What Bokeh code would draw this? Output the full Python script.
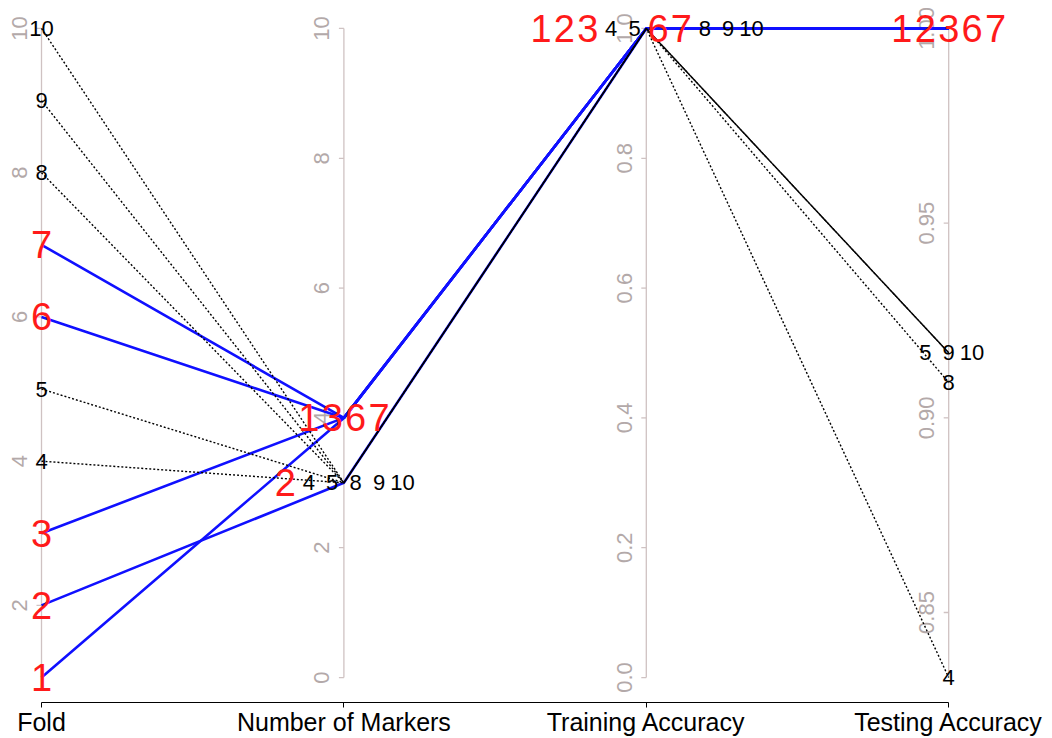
import math
from bokeh.plotting import figure
from bokeh.models import Range1d, FixedTicker, ColumnDataSource
from bokeh.core.properties import value
from bokeh.embed import file_html
from bokeh.resources import INLINE

# ---- data: one row per cross-validation fold ----
folds = [1, 2, 3, 4, 5, 6, 7, 8, 9, 10]
n_markers = [4, 3, 4, 3, 3, 4, 4, 3, 3, 3]
train_acc = [1.0, 1.0, 1.0, 1.0, 1.0, 1.0, 1.0, 1.0, 1.0, 1.0]
test_acc = [1.0, 1.0, 1.0, 0.8333, 0.9167, 1.0, 1.0, 0.9091, 0.9167, 0.9167]

axis_names = ["Fold", "Number of Markers", "Training Accuracy", "Testing Accuracy"]
axis_lo = [1, 0, 0.0, min(test_acc)]
axis_hi = [10, 10, 1.0, 1.0]

fold_ticks = [2, 4, 6, 8, 10]
marker_ticks = [0, 2, 4, 6, 8, 10]
train_ticks = [0.0, 0.2, 0.4, 0.6, 0.8, 1.0]
test_ticks = [0.85, 0.90, 0.95, 1.00]
fold_tick_labels = ["2", "4", "6", "8", "10"]
marker_tick_labels = ["0", "2", "4", "6", "8", "10"]
train_tick_labels = ["0.0", "0.2", "0.4", "0.6", "0.8", "1.0"]
test_tick_labels = ["0.85", "0.90", "0.95", "1.00"]

# ---- layout / style ----
W, H = 1052, 738
FRAME_H = 703
PX_X = 302.4          # pixels between neighbouring axes
LEFT = 41             # pixel of the first axis
PX_Y = 650            # pixels for the full normalised range
TOP = 28              # pixel of normalised value 1
SLOT = 23.4           # horizontal spacing of stacked fold labels
AXIS_COL = "#cfc2c2"
TICK_TXT = "#b3a9a9"
FONT = "Liberation Sans"

columns = [folds, n_markers, train_acc, test_acc]
good = [t == 1.0 for t in test_acc]


def norm(v, k):
    return (v - axis_lo[k]) / (axis_hi[k] - axis_lo[k])


p = figure(width=W, height=H, output_backend="svg", toolbar_location=None,
           x_range=Range1d(-LEFT / PX_X, (W - LEFT) / PX_X),
           y_range=Range1d(-(FRAME_H - TOP - PX_Y) / PX_Y, 1 + TOP / PX_Y),
           y_axis_location=None, min_border_left=0, min_border_right=0,
           min_border_top=0, min_border_bottom=H - FRAME_H)
p.outline_line_color = None
p.grid.visible = False
p.background_fill_color = "white"

# bottom axis carrying the variable names
xa = p.xaxis[0]
xa.ticker = FixedTicker(ticks=[0, 1, 2, 3])
xa.major_label_overrides = {i: n for i, n in enumerate(axis_names)}
xa.bounds = (0, 3)
xa.axis_line_color = "black"
xa.major_tick_line_color = "black"
xa.major_tick_out = 5
xa.major_tick_in = 0
xa.minor_tick_line_color = None
xa.major_label_standoff = 0
xa.major_label_text_font = FONT
xa.major_label_text_font_size = "25px"
xa.major_label_text_color = "black"

# vertical axes drawn at each variable position
tick_sets = [(fold_ticks, fold_tick_labels), (marker_ticks, marker_tick_labels),
             (train_ticks, train_tick_labels), (test_ticks, test_tick_labels)]
ax_x0, ax_x1, ax_y0, ax_y1 = [], [], [], []
tk = dict(x0=[], x1=[], y=[])
tl = dict(x=[], y=[], text=[])
for k, (ticks, labels) in enumerate(tick_sets):
    ax_x0.append(k); ax_x1.append(k)
    ax_y0.append(0.0); ax_y1.append(1.0)
    for t, lab in zip(ticks, labels):
        yv = norm(t, k)
        tk["x0"].append(k - 5 / PX_X); tk["x1"].append(k); tk["y"].append(yv)
        tl["x"].append(k); tl["y"].append(yv); tl["text"].append(lab)

p.segment(x0=ax_x0, y0=ax_y0, x1=ax_x1, y1=ax_y1, line_color=AXIS_COL, line_width=1.3)
p.segment(x0="x0", y0="y", x1="x1", y1="y", source=ColumnDataSource(tk),
          line_color=AXIS_COL, line_width=1.3)
p.text(x="x", y="y", text="text", source=ColumnDataSource(tl), angle=math.pi / 2,
       x_offset=-22, text_align="center", text_baseline="middle",
       text_font=value(FONT), text_font_size="22px", text_color=TICK_TXT)

# polylines, one per fold
xs_all = [0, 1, 2, 3]
blue = dict(xs=[], ys=[])
dots = dict(xs=[], ys=[])
for i in range(len(folds)):
    ys = [norm(columns[k][i], k) for k in range(4)]
    tgt = blue if good[i] else dots
    tgt["xs"].append(xs_all); tgt["ys"].append(ys)

p.multi_line(xs="xs", ys="ys", source=ColumnDataSource(blue), line_color="#1010ff", line_width=2.6)
p.multi_line(xs="xs", ys="ys", source=ColumnDataSource(dots), line_color="black",
             line_width=1.4, line_dash="2 2")

# fold numbers written at every axis, stacked sideways when values coincide
red = dict(x=[], y=[], text=[], off=[])
blk = dict(x=[], y=[], text=[], off=[])
for k in range(4):
    groups = {}
    for i in range(len(folds)):
        groups.setdefault(columns[k][i], []).append(i)
    for val, members in groups.items():
        n = len(members)
        for j, i in enumerate(members):
            d = red if good[i] else blk
            d["x"].append(k)
            d["y"].append(norm(val, k))
            d["text"].append(str(folds[i]))
            d["off"].append((j - (n - 1) / 2) * SLOT)

p.text(x="x", y="y", text="text", x_offset="off", source=ColumnDataSource(blk),
       text_align="center", text_baseline="middle", text_font=value(FONT),
       text_font_size="22px", text_color="black")
p.text(x="x", y="y", text="text", x_offset="off", source=ColumnDataSource(red),
       text_align="center", text_baseline="middle", text_font=value(FONT),
       text_font_size="38px", text_color="#ff1a1a")

open("out.html", "w").write(file_html(p, INLINE))
